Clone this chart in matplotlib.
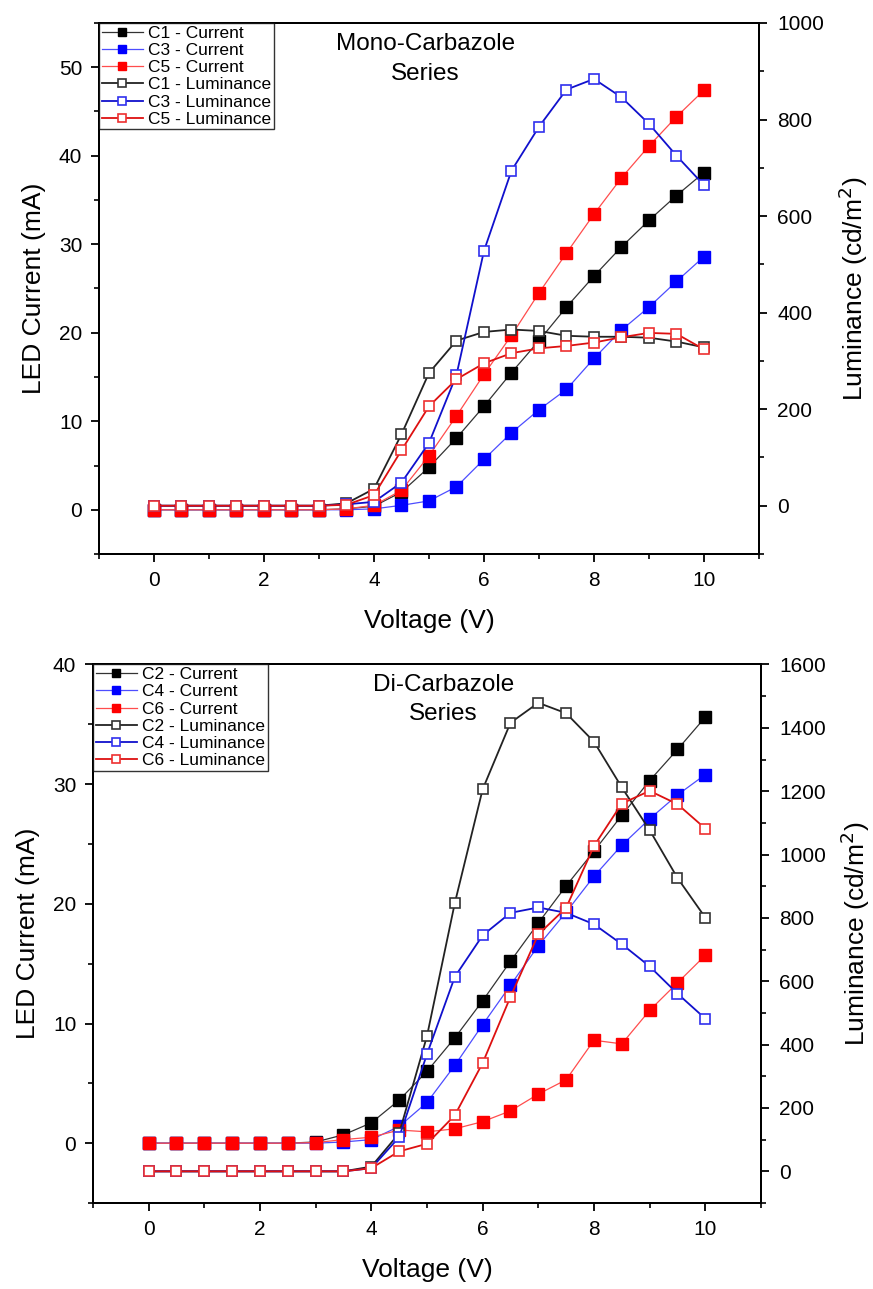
import matplotlib
matplotlib.use("Agg")
import matplotlib.pyplot as plt
from matplotlib.ticker import MultipleLocator

plt.rcParams['font.family'] = ['Liberation Sans', 'DejaVu Sans']

voltage = [0.0, 0.5, 1.0, 1.5, 2.0, 2.5, 3.0, 3.5, 4.0, 4.5, 5.0,
           5.5, 6.0, 6.5, 7.0, 7.5, 8.0, 8.5, 9.0, 9.5, 10.0]

# Mono-carbazole series
c1_current = [0, 0, 0, 0, 0, 0, 0, 0.1, 0.4, 2.0, 4.8, 8.1, 11.7, 15.5, 19.1, 22.9, 26.4, 29.7, 32.7, 35.5, 38.1]
c3_current = [0, 0, 0, 0, 0, 0, 0, 0.0, 0.1, 0.5, 1.0, 2.6, 5.7, 8.7, 11.3, 13.6, 17.1, 20.3, 22.9, 25.8, 28.6]
c5_current = [0, 0, 0, 0, 0, 0, 0, 0.1, 0.5, 2.2, 6.1, 10.6, 15.3, 19.7, 24.5, 29.0, 33.4, 37.5, 41.1, 44.4, 47.4]
c1_lum = [0, 0, 0, 0, 0, 0, 0, 5, 35, 148, 275, 342, 360, 365, 362, 352, 350, 350, 348, 340, 328]
c3_lum = [0, 0, 0, 0, 0, 0, 0, 3, 8, 48, 130, 271, 528, 694, 785, 862, 884, 846, 791, 725, 664]
c5_lum = [0, 0, 0, 0, 0, 0, 0, 2, 22, 115, 206, 262, 295, 316, 326, 331, 338, 349, 358, 356, 324]

# Di-carbazole series
c2_current = [0, 0, 0, 0, 0, 0, 0.1, 0.7, 1.7, 3.6, 6.0, 8.8, 11.9, 15.2, 18.4, 21.5, 24.4, 27.4, 30.3, 32.9, 35.6]
c4_current = [0, 0, 0, 0, 0, 0, 0, 0.1, 0.3, 1.4, 3.4, 6.5, 9.9, 13.2, 16.5, 19.3, 22.3, 24.9, 27.1, 29.1, 30.8]
c6_current = [0, 0, 0, 0, 0, 0, 0.05, 0.3, 0.5, 1.1, 0.95, 1.2, 1.8, 2.7, 4.1, 5.3, 8.6, 8.3, 11.1, 13.4, 15.7]
c2_lum = [0, 0, 0, 0, 0, 0, 0, 0, 15, 120, 427, 847, 1206, 1416, 1479, 1446, 1356, 1212, 1077, 926, 801]
c4_lum = [0, 0, 0, 0, 0, 0, 0, 0, 10, 108, 370, 614, 745, 816, 833, 816, 780, 717, 647, 561, 482]
c6_lum = [0, 0, 0, 0, 0, 0, 0, 0, 10, 63, 87, 177, 342, 551, 748, 832, 1027, 1161, 1201, 1159, 1082]

CUR_COLORS = ['#000000', '#0000ff', '#ff0000']
CUR_LINE = ['#333333', '#4d4dff', '#ff4d4d']
LUM_EDGE = ['#333333', '#3030ee', '#ee3030']
LUM_LINE = ['#222222', '#1010cc', '#dd1010']

fig = plt.figure(figsize=(8.73, 12.89), dpi=100)


def style_axes(ax, ax2):
    for a in (ax, ax2):
        for s in a.spines.values():
            s.set_linewidth(1.4)
    ax.tick_params(axis='both', which='major', direction='out', length=6, width=1.3,
                   labelsize=15, pad=6, top=False, right=False)
    ax.tick_params(axis='both', which='minor', direction='out', length=3.5, width=1.2,
                   top=False, right=False)
    ax2.tick_params(axis='y', which='major', direction='out', length=6, width=1.3,
                    labelsize=15, pad=7)
    ax2.tick_params(axis='y', which='minor', direction='out', length=3.5, width=1.2)


def panel(rect, cur_names, currents, lum_names, lums, ylim_c, ylim_l, lmaj, title):
    ax = fig.add_axes(rect)
    ax2 = ax.twinx()
    handles = []
    for name, data, col, lc in zip(cur_names, currents, CUR_COLORS, CUR_LINE):
        h, = ax.plot(voltage, data, '-s', color=lc, lw=0.9, markersize=8,
                     markerfacecolor=col, markeredgecolor=col, label=name)
        handles.append(h)
    for name, data, ec, lc in zip(lum_names, lums, LUM_EDGE, LUM_LINE):
        h, = ax2.plot(voltage, data, '-s', color=lc, lw=1.3, markersize=7.5,
                      markerfacecolor='white', markeredgecolor=ec, markeredgewidth=1.2,
                      label=name)
        handles.append(h)
    ax.set_xlim(-1, 11)
    ax.xaxis.set_major_locator(MultipleLocator(2))
    ax.xaxis.set_minor_locator(MultipleLocator(1))
    ax.yaxis.set_major_locator(MultipleLocator(10))
    ax.yaxis.set_minor_locator(MultipleLocator(5))
    ax2.yaxis.set_major_locator(MultipleLocator(lmaj))
    ax2.yaxis.set_minor_locator(MultipleLocator(lmaj / 2))
    ax.set_ylim(*ylim_c)
    ax2.set_ylim(*ylim_l)
    style_axes(ax, ax2)
    ax.set_xlabel('Voltage (V)', fontsize=19, labelpad=14)
    ax.set_ylabel('LED Current (mA)', fontsize=19, labelpad=9)
    ax2.set_ylabel('Luminance (cd/m$^2$)', fontsize=19, labelpad=9)
    leg = ax2.legend(handles=handles, loc='upper left', bbox_to_anchor=(0, 1),
                     borderaxespad=0, fontsize=12.5, frameon=True, fancybox=False,
                     labelspacing=0.12, handlelength=2.4, handletextpad=0.3,
                     borderpad=0.15, numpoints=1, markerscale=0.8)
    leg.get_frame().set_edgecolor('black')
    leg.get_frame().set_linewidth(1.0)
    ax2.text(title[1], title[2], title[0], transform=ax.transAxes, ha='center',
             va='top', fontsize=17.5, linespacing=1.45)
    return ax, ax2


panel([0.1134, 0.5702, 0.756, 0.4120],
      ['C1 - Current', 'C3 - Current', 'C5 - Current'],
      [c1_current, c3_current, c5_current],
      ['C1 - Luminance', 'C3 - Luminance', 'C5 - Luminance'],
      [c1_lum, c3_lum, c5_lum],
      (-5, 55), (-100, 1000), 200,
      ('Mono-Carbazole\nSeries', 0.495, 0.981))

panel([0.1065, 0.0667, 0.7652, 0.4178],
      ['C2 - Current', 'C4 - Current', 'C6 - Current'],
      [c2_current, c4_current, c6_current],
      ['C2 - Luminance', 'C4 - Luminance', 'C6 - Luminance'],
      [c2_lum, c4_lum, c6_lum],
      (-5, 40), (-100, 1600), 200,
      ('Di-Carbazole\nSeries', 0.525, 0.983))

fig.savefig('out.png', dpi=100)
